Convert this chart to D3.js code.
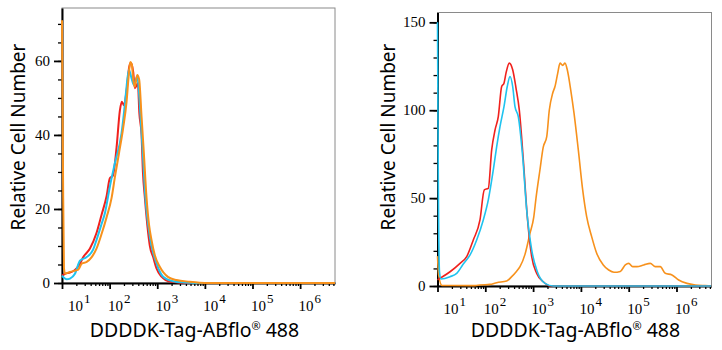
<!DOCTYPE html>
<html>
<head>
<meta charset="utf-8">
<script src="https://cdn.jsdelivr.net/npm/d3@7"></script>
<style>
  body { margin: 0; background: #fff; }
  svg { display: block; }
  .tick text { display: none; }
</style>
</head>
<body>
<svg width="722" height="350"></svg>
<script>
const width = 722;
const height = 350;
const svg = d3.select('svg');

// x axis decades (exponents) and y tick values
const decades = [1, 2, 3, 4, 5, 6];
const leftYTicks = [0, 20, 40, 60];
const rightYTicks = [0, 50, 100, 150];

// left panel histograms: [intensity, count]
const leftRed = [[10, 2], [11.6, 2.5], [14.7, 2.8], [18.7, 3.5], [23.8, 5.2], [28, 7], [38.6, 9.3], [53, 13.5],
  [68, 18.5], [86.5, 23.5], [101, 28.3], [117, 29], [140, 36.7], [164, 46.6], [181, 49], [200, 48],
  [227, 52], [257, 58.3], [280, 59.5], [313, 57], [339, 52.6], [392, 54], [420, 46], [468, 40],
  [500, 30], [550, 23], [645, 13.5], [700, 10], [820, 7], [960, 4], [1230, 1.7], [1500, 0.8],
  [2000, 0.3], [3000, 0.1], [5000, 0], [5400000, 0]];
const leftCyan = [[10, 2], [11, 1.4], [12.5, 1], [14.7, 1.2], [18.7, 2.5], [23.8, 6], [33, 7], [45, 9],
  [53, 11.6], [68, 16], [80, 19], [101, 26], [129, 32.4], [178, 40.5], [200, 46], [220, 51.3],
  [254, 57.6], [289, 55.3], [324, 53.5], [379, 55.8], [446, 45], [499, 35], [550, 25], [700, 12.5],
  [966, 5.3], [1330, 1.7], [2150, 0.5], [3800, 0.15], [6000, 0], [5400000, 0]];
const leftOrange = [[10, 71], [10.5, 30], [11, 4], [11.6, 2.5], [14.7, 3], [22, 3.6], [25.9, 5.2], [33, 5.7],
  [42, 7], [53, 9.3], [68, 13.3], [86.5, 17.8], [110, 23], [129, 28.6], [157, 35], [193, 42],
  [227, 49], [250, 55.6], [271, 59.7], [293, 59], [313, 55], [339, 53], [379, 56.2], [417, 55],
  [468, 45], [524, 35], [596, 23], [676, 15.5], [759, 11.6], [890, 7.5], [1130, 4.4], [1700, 1.6],
  [2540, 0.8], [4800, 0.35], [7760, 0.1], [12000, 0], [5400000, 0]];

// right panel histograms: [intensity, count]
const rightRed = [[10, 3.5], [11.3, 4.4], [18.3, 8.1], [29.6, 12.9], [40.8, 16.7], [56.1, 26.2], [77.4, 37.6],
  [95.3, 54.7], [115.6, 55.6], [136, 77.4], [160, 88.8], [187, 96.4], [220, 113.5], [246, 115.4],
  [271, 121.1], [318, 126.8], [374, 123], [439, 112.6], [514, 100.2], [624, 71.8], [756, 39.5],
  [935, 16.7], [1190, 7.2], [1635, 2.4], [2260, 0], [5400000, 0]];
const rightCyan = [[10, 150], [10.4, 60], [11, 8], [11.8, 4], [18.3, 5.3], [25.2, 7.2], [34.6, 12.5],
  [48, 17.7], [66, 26.2], [90.8, 37.6], [115.6, 49], [147, 66], [173, 79.3], [203, 90.7], [246, 102],
  [288, 113.5], [329, 119.2], [374, 113.5], [418, 102], [490, 96.4], [605, 73.6], [734, 43.3],
  [935, 20.5], [1225, 8.1], [1775, 1.5], [2650, 0], [5400000, 0]];
const rightOrange = [[10, 17], [10.6, 6], [12.4, 0.3], [61, 0.2], [77, 0.6], [125, 0.9], [173, 1.9],
  [280, 2.8], [357, 5.3], [439, 8], [532, 11], [677, 18], [861, 30], [1030, 39], [1150, 50],
  [1390, 66], [1630, 79], [1930, 85], [2180, 100], [2570, 109.7], [2870, 113.5], [3270, 121],
  [3660, 126.8], [4160, 125.5], [4650, 126.8], [5190, 123], [6120, 111.6], [7180, 98.3],
  [8830, 77.4], [10900, 54.7], [13200, 39.5], [16800, 28.1], [21400, 18.6], [29400, 12],
  [38200, 9.1], [49200, 7.8], [66700, 8.3], [84900, 12], [100000, 12.9], [121000, 11],
  [149000, 11], [206000, 12], [283000, 12.9], [360000, 11], [458000, 11], [583000, 7.2],
  [805000, 6.3], [1110000, 3.4], [1660000, 1.5], [2470000, 0.6], [3980000, 0.2], [5400000, 0]];

const colors = { red: '#f0211d', cyan: '#1fc3ef', orange: '#f7911c' };
const serif = '"Liberation Serif", "DejaVu Serif", serif';
const sans = '"Noto Sans", "Open Sans", sans-serif';

function drawPanel(p) {
  const xScale = d3.scaleLog()
                   .domain([10, 5.4e6])
                   .range([p.left, p.right]);
  const yScale = d3.scaleLinear()
                   .domain([0, p.yMax])
                   .range([p.bottom, p.top]);
  const g = svg.append('g');

  // frame
  g.append('rect')
   .attr('x', p.left).attr('y', p.top)
   .attr('width', p.right - p.left).attr('height', p.bottom - p.top)
   .attr('fill', 'none').attr('stroke', '#8a8a8a').attr('stroke-width', 1);

  // minor and major x ticks
  const minors = [];
  for (let e = 1; e <= 6; e++) {
    for (let m = 2; m <= 9; m++) {
      const v = m * Math.pow(10, e);
      if (v <= 5.4e6) minors.push(v);
    }
  }
  g.append('g').attr('transform', `translate(0, ${p.bottom})`)
   .call(d3.axisBottom(xScale).tickValues(minors).tickSize(3).tickSizeOuter(0).tickFormat(''))
   .call(a => a.select('.domain').remove())
   .selectAll('line').attr('stroke', '#000').attr('stroke-width', 1.3);
  g.append('g').attr('transform', `translate(0, ${p.bottom})`)
   .call(d3.axisBottom(xScale).tickValues(decades.map(d => Math.pow(10, d))).tickSize(6).tickSizeOuter(0).tickFormat(''))
   .call(a => a.select('.domain').attr('stroke-width', 2))
   .selectAll('line').attr('stroke', '#000').attr('stroke-width', 1.8);

  // y ticks
  const yMinor = d3.range(0, p.yMax, p.yMinorStep);
  g.append('g').attr('transform', `translate(${p.left}, 0)`)
   .call(d3.axisLeft(yScale).tickValues(yMinor).tickSize(4).tickSizeOuter(0).tickFormat(''))
   .call(a => a.select('.domain').remove())
   .selectAll('line').attr('stroke', '#000').attr('stroke-width', 1.3);
  g.append('g').attr('transform', `translate(${p.left}, 0)`)
   .call(d3.axisLeft(yScale).tickValues(p.yTicks).tickSize(8).tickSizeOuter(0).tickFormat(''))
   .call(a => a.select('.domain').attr('stroke-width', 2))
   .selectAll('line').attr('stroke', '#000').attr('stroke-width', 1.8);

  // y tick labels
  g.selectAll('.ylab').data(p.yTicks).enter()
   .append('text')
   .attr('x', p.left - 12)
   .attr('y', d => yScale(d) + 5)
   .attr('text-anchor', 'end')
   .style('font-family', serif)
   .style('font-size', '15px')
   .text(d => d);

  // x tick labels 10^n
  const xl = g.selectAll('.xlab').data(decades).enter()
   .append('text')
   .attr('x', (d, i) => i === 0 ? xScale(Math.pow(10, d)) + 6 : xScale(Math.pow(10, d)) - 1.5)
   .attr('y', p.bottom + 28)
   .style('font-family', serif)
   .style('font-size', '15px');
  xl.append('tspan').text('10');
  xl.append('tspan').attr('dx', 1).attr('dy', -8).style('font-size', '13px').text(d => d);

  // axis titles
  const title = g.append('text')
   .attr('x', (p.left + p.right) / 2 + p.titleShift)
   .attr('y', 337)
   .attr('text-anchor', 'middle')
   .style('font-family', sans)
   .style('font-size', '19.5px');
  title.append('tspan').text('DDDDK-Tag-ABflo');
  title.append('tspan').attr('dy', -7).style('font-size', '11px').text('®');
  title.append('tspan').attr('dy', 7).text(' 488');

  g.append('text')
   .attr('transform', 'rotate(-90)')
   .attr('x', -137)
   .attr('y', p.left - p.yTitleGap)
   .attr('text-anchor', 'middle')
   .style('font-family', sans)
   .style('font-size', '19px')
   .text('Relative Cell Number');

  // histograms
  const line = d3.line()
                 .x(d => xScale(d[0]))
                 .y(d => yScale(d[1]))
                 .curve(d3.curveMonotoneX);
  p.series.forEach(s => {
    g.append('path')
     .datum(s.data)
     .attr('d', line)
     .attr('fill', 'none')
     .attr('stroke', s.color)
     .attr('stroke-width', p.lineWidth)
     .attr('stroke-linejoin', 'round');
  });
}

drawPanel({
  left: 62, right: 335, top: 8, bottom: 283, yMax: 74.3,
  yTicks: leftYTicks, yMinorStep: 5, lineWidth: 2,
  titleShift: -4, yTitleGap: 37,
  series: [
    { data: leftRed, color: colors.red },
    { data: leftCyan, color: colors.cyan },
    { data: leftOrange, color: colors.orange }
  ]
});

drawPanel({
  left: 437.5, right: 711.5, top: 12.5, bottom: 286, yMax: 155.6,
  yTicks: rightYTicks, yMinorStep: 10, lineWidth: 1.6,
  titleShift: 1, yTitleGap: 43,
  series: [
    { data: rightOrange, color: colors.orange },
    { data: rightRed, color: colors.red },
    { data: rightCyan, color: colors.cyan }
  ]
});
</script>
</body>
</html>
